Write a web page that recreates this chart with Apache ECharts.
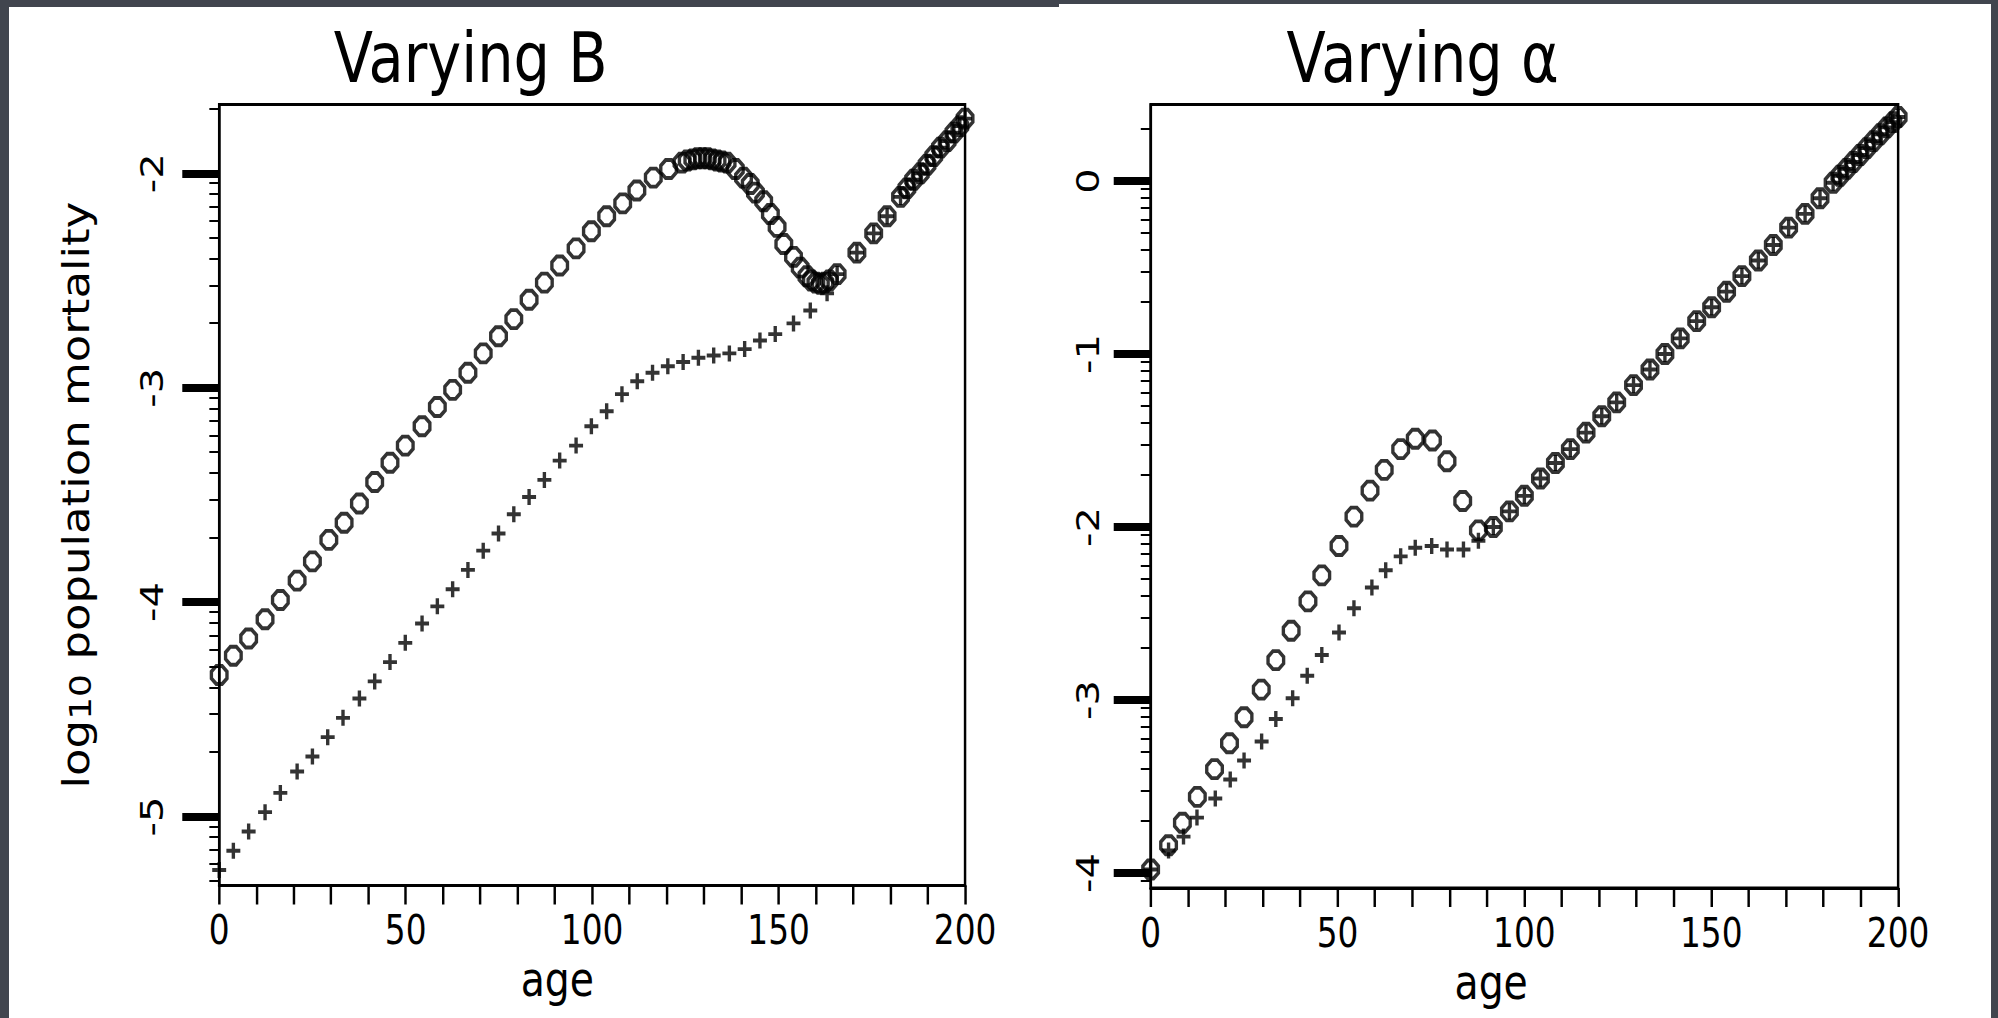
<!DOCTYPE html>
<html>
<head>
<meta charset="utf-8">
<script src="https://cdn.jsdelivr.net/npm/echarts@6/dist/echarts.min.js"></script>
<style>
  html, body { margin:0; padding:0; width:1998px; height:1018px; overflow:hidden; background:#41454e; }
  #bgL { position:absolute; left:9px; top:7px; width:1052px; height:1011px; background:#fff; }
  #bgR { position:absolute; left:1059px; top:4px; width:932px; height:1014px; background:#fff; }
  #wrap { position:absolute; left:0; top:0; width:1998px; height:1018px; overflow:hidden; }
  #chart { height:1018px; transform-origin:0 0; }
</style>
</head>
<body>
<div id="bgL"></div>
<div id="bgR"></div>
<div id="wrap"><div id="chart"></div></div>
<script>
// ---------------- data ----------------
// Left panel: "Varying B"
const LEFT_O_AGE = [0, 3.8, 7.9, 12.3, 16.4, 20.9, 25.0, 29.4, 33.5, 37.6, 41.7, 45.8, 49.9, 54.4, 58.5, 62.6, 66.7, 70.8, 74.9, 79.0, 83.1, 87.2, 91.3, 95.7, 99.8, 103.9, 108.2, 112.0, 116.4, 120.5, 124.1, 125.5, 127.0, 128.3, 129.6, 130.9, 132.2, 133.5, 134.8, 136.2, 138.4, 140.6, 142.4, 143.8, 146.0, 147.8, 149.6, 151.4, 154.0, 155.8, 157.6, 158.8, 160.0, 161.2, 162.4, 163.6];
const LEFT_O_VAL = [-4.34, -4.25, -4.17, -4.08, -3.99, -3.90, -3.81, -3.71, -3.63, -3.54, -3.44, -3.35, -3.27, -3.18, -3.09, -3.01, -2.93, -2.84, -2.76, -2.68, -2.59, -2.51, -2.43, -2.35, -2.27, -2.20, -2.14, -2.08, -2.02, -1.98, -1.95, -1.94, -1.935, -1.93, -1.93, -1.93, -1.935, -1.94, -1.945, -1.95, -1.98, -2.02, -2.05, -2.09, -2.13, -2.19, -2.25, -2.33, -2.39, -2.44, -2.48, -2.50, -2.51, -2.515, -2.51, -2.50];
const LEFT_P_AGE = [0, 3.8, 7.9, 12.3, 16.4, 20.9, 25.0, 29.1, 33.2, 37.6, 41.7, 45.8, 49.9, 54.4, 58.5, 62.6, 66.7, 70.8, 74.9, 79.0, 83.1, 87.2, 91.3, 95.7, 99.8, 103.9, 108.0, 112.1, 116.2, 120.3, 124.4, 128.5, 132.6, 136.8, 140.9, 145.0, 149.1, 154.0, 158.5, 163.0];
const LEFT_P_VAL = [-5.25, -5.16, -5.07, -4.98, -4.89, -4.79, -4.72, -4.63, -4.54, -4.45, -4.37, -4.28, -4.19, -4.10, -4.02, -3.94, -3.85, -3.76, -3.68, -3.59, -3.51, -3.43, -3.34, -3.27, -3.18, -3.11, -3.03, -2.97, -2.93, -2.90, -2.88, -2.86, -2.85, -2.84, -2.82, -2.78, -2.75, -2.70, -2.64, -2.56];
// points where both left series coincide
const LEFT_TAIL_AGE = [165.7, 171.0, 175.5, 179.1, 182.7, 184.4, 186.2, 188.0, 189.8, 191.6, 193.4, 195.2, 197.0, 198.6, 200];
const LEFT_TAIL_VAL = [-2.47, -2.37, -2.28, -2.20, -2.11, -2.07, -2.03, -2.00, -1.96, -1.92, -1.88, -1.85, -1.81, -1.78, -1.745];

// Right panel: "Varying α"
const RIGHT_O_AGE = [0, 4.8, 8.5, 12.5, 17.1, 21.1, 25.0, 29.6, 33.5, 37.6, 42.1, 45.8, 50.4, 54.4, 58.7, 62.5, 66.9, 70.8, 75.4, 79.3, 83.5, 87.7];
const RIGHT_O_VAL = [-3.98, -3.84, -3.71, -3.56, -3.40, -3.25, -3.10, -2.94, -2.77, -2.60, -2.43, -2.28, -2.11, -1.94, -1.79, -1.67, -1.55, -1.49, -1.50, -1.62, -1.85, -2.02];
const RIGHT_P_AGE = [0, 4.8, 8.8, 12.4, 17.3, 21.3, 25.0, 29.7, 33.5, 38.0, 41.9, 45.8, 50.4, 54.4, 59.2, 62.9, 66.9, 70.8, 75.2, 79.3, 83.7, 87.7];
const RIGHT_P_VAL = [-3.98, -3.87, -3.79, -3.68, -3.57, -3.46, -3.35, -3.24, -3.11, -2.99, -2.86, -2.74, -2.61, -2.47, -2.35, -2.25, -2.17, -2.12, -2.11, -2.13, -2.13, -2.08];
const RIGHT_TAIL_AGE = [91.7, 96.0, 100.0, 104.3, 108.3, 112.3, 116.5, 120.7, 124.7, 129.2, 133.6, 137.6, 141.7, 146.1, 150.1, 154.1, 158.2, 162.6, 166.6, 170.7, 175.1, 179.1, 182.6, 184.4, 186.2, 188.0, 189.8, 191.6, 193.4, 195.2, 197.0, 198.6, 200];
const RIGHT_TAIL_VAL = [-2.00, -1.91, -1.82, -1.72, -1.63, -1.55, -1.455, -1.36, -1.28, -1.18, -1.09, -1.00, -0.91, -0.81, -0.73, -0.64, -0.55, -0.46, -0.37, -0.27, -0.19, -0.10, -0.01, 0.03, 0.07, 0.11, 0.15, 0.19, 0.23, 0.27, 0.31, 0.34, 0.37];

// axes / ticks
const TITLES = ['Varying B', 'Varying \u03b1'];
const X_NAME = 'age';
const Y_NAME_RICH = '{a|log}{s|10}{a| population mortality}';
const LEFT_Y_MAJOR = [-5, -4, -3, -2];
const RIGHT_Y_MAJOR = [-4, -3, -2, -1, 0];
const LOG_MINOR_MULT = [2, 3, 4, 5, 6, 7, 8, 9];
const DECADES = [-6, -5, -4, -3, -2, -1, 0];
const LEFT_Y_RANGE = [-5.322, -1.679];
const RIGHT_Y_RANGE = [-4.087, 0.442];

// ---------------- rendering ----------------
const SX = 0.82;           // horizontal compression of the original figure
const W = 1998 / SX;
const chartEl = document.getElementById('chart');
chartEl.style.width = W + 'px';
chartEl.style.transform = 'scaleX(' + SX + ')';

const FONT = 'DejaVu Sans';
const zip = (a, b) => a.map((v, i) => [v, b[i]]);
function minorTicks(range) {
  const out = [];
  DECADES.forEach(d => LOG_MINOR_MULT.forEach(k => {
    const v = d + Math.log10(k);
    if (v > range[0] && v < range[1]) out.push(v);
  }));
  return out;
}

const HEX = 'path://M5,0 L11,0 L16,5 L16,11 L11,16 L5,16 L0,11 L0,5 Z';
const PLUS = 'path://M6,0 L6,12 M0,6 L12,6';

function xAxis(g, shift) {
  return {
    type: 'value', gridIndex: g, min: 0, max: 200, interval: 50,
    axisLine: { show: true, onZero: false, lineStyle: { color: '#000', width: 3 } },
    axisTick: { show: true, length: 19, lineStyle: { color: '#000', width: 3 } },
    minorTick: { show: true, splitNumber: 5, length: 19, lineStyle: { color: '#000', width: 3 } },
    splitLine: { show: false }, minorSplitLine: { show: false },
    axisLabel: { fontSize: 40, color: '#000', fontFamily: FONT, margin: 25 },
    name: X_NAME, nameLocation: 'middle', nameGap: 59,
    nameTextStyle: { fontSize: 48, color: '#000', fontFamily: FONT, padding: [0, shift, 0, 0] }
  };
}
function yMajor(g, range, major, margin, withName) {
  const ax = {
    type: 'value', gridIndex: g, position: 'left', min: range[0], max: range[1],
    axisLine: { show: true, onZero: false, lineStyle: { color: '#000', width: 3 } },
    axisTick: { show: true, customValues: major, length: 45, lineStyle: { color: '#000', width: 8 } },
    axisLabel: { customValues: major, rotate: 90, margin: margin, fontSize: 40, color: '#000', fontFamily: FONT },
    splitLine: { show: false }
  };
  if (withName) {
    ax.name = Y_NAME_RICH;
    ax.nameLocation = 'middle';
    ax.nameRotate = 90;
    ax.nameGap = 151;
    ax.nameTextStyle = {
      color: '#000', fontFamily: FONT, fontSize: 45,
      rich: {
        a: { fontSize: 45, color: '#000', fontFamily: FONT, verticalAlign: 'middle' },
        s: { fontSize: 36, color: '#000', fontFamily: FONT, lineHeight: 10, verticalAlign: 'bottom' }
      }
    };
  }
  return ax;
}
function yMinor(g, range) {
  return {
    type: 'value', gridIndex: g, position: 'left', offset: 0, min: range[0], max: range[1],
    axisLine: { show: false, onZero: false },
    axisTick: { show: true, customValues: minorTicks(range), length: 12, lineStyle: { color: '#000', width: 2 } },
    axisLabel: { show: false }, splitLine: { show: false }
  };
}
function scatter(xi, yi, data, sym) {
  const isHex = sym === HEX;
  return {
    type: 'scatter', xAxisIndex: xi, yAxisIndex: yi, data: data, clip: false, silent: true,
    symbol: sym, symbolSize: isHex ? [19, 18] : [17, 16],
    itemStyle: { color: 'rgba(0,0,0,0)', borderColor: '#000', borderWidth: 4 }
  };
}

const chart = echarts.init(chartEl, null, { renderer: 'svg' });
chart.setOption({
  animation: false,
  backgroundColor: 'transparent',
  title: [
    { text: TITLES[0], left: 574, top: 23, padding: 0, textAlign: 'center', textVerticalAlign: 'top',
      textStyle: { fontSize: 70, fontWeight: 'normal', color: '#000', fontFamily: FONT } },
    { text: TITLES[1], left: 1735, top: 23, padding: 0, textAlign: 'center', textVerticalAlign: 'top',
      textStyle: { fontSize: 70, fontWeight: 'normal', color: '#000', fontFamily: FONT } }
  ],
  grid: [
    { left: 267.3, top: 104.5, width: 909.6, height: 781, show: true, borderColor: '#000', borderWidth: 3 },
    { left: 1403.2, top: 104.5, width: 911.6, height: 783.5, show: true, borderColor: '#000', borderWidth: 3 }
  ],
  xAxis: [xAxis(0, 85), xAxis(1, 81)],
  yAxis: [
    yMajor(0, LEFT_Y_RANGE, LEFT_Y_MAJOR, 62, true),
    yMinor(0, LEFT_Y_RANGE),
    yMajor(1, RIGHT_Y_RANGE, RIGHT_Y_MAJOR, 57, false),
    yMinor(1, RIGHT_Y_RANGE)
  ],
  series: [
    scatter(0, 0, zip(LEFT_O_AGE, LEFT_O_VAL).concat(zip(LEFT_TAIL_AGE, LEFT_TAIL_VAL)), HEX),
    scatter(0, 0, zip(LEFT_P_AGE, LEFT_P_VAL).concat(zip(LEFT_TAIL_AGE, LEFT_TAIL_VAL)), PLUS),
    scatter(1, 2, zip(RIGHT_O_AGE, RIGHT_O_VAL).concat(zip(RIGHT_TAIL_AGE, RIGHT_TAIL_VAL)), HEX),
    scatter(1, 2, zip(RIGHT_P_AGE, RIGHT_P_VAL).concat(zip(RIGHT_TAIL_AGE, RIGHT_TAIL_VAL)), PLUS)
  ]
});
</script>
</body>
</html>
